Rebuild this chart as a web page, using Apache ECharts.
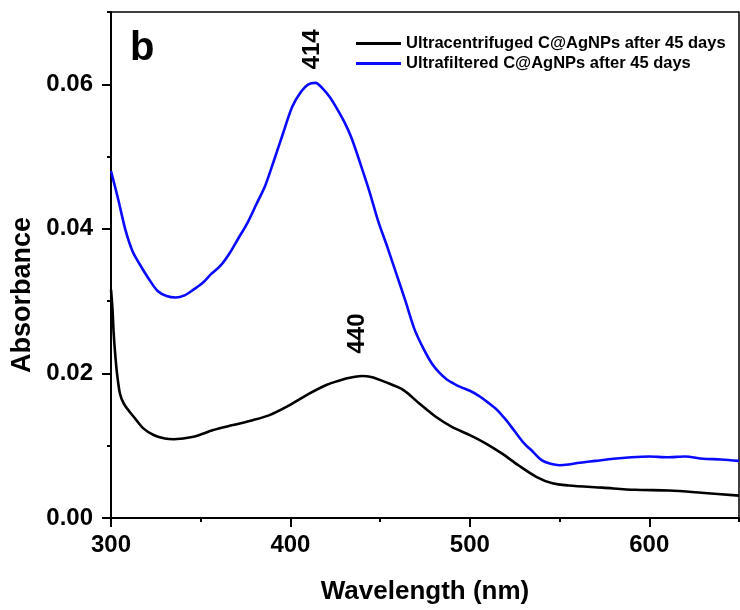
<!DOCTYPE html>
<html>
<head>
<meta charset="utf-8">
<title>UV-Vis absorbance of C@AgNPs after 45 days</title>
<script src="https://cdn.jsdelivr.net/npm/echarts@6/dist/echarts.min.js"></script>
<style>
  html, body { margin: 0; padding: 0; background: #fff; }
  #chart { width: 740px; height: 610px; }
</style>
</head>
<body>
<div id="chart"></div>
<script>
// Ultracentrifuged sample: wavelength (nm) and absorbance
const wlCentrifuged = [300, 300.8, 301.5, 302.5, 303.5, 305, 307, 310, 313, 318, 324, 330, 335, 346, 357, 368,
  379, 388, 398, 409, 420, 431, 436, 440, 445, 453, 463, 472, 481, 490, 500, 509, 518, 527, 537, 546,
  555, 574, 592, 611, 629, 650];
const absCentrifuged = [0.0316, 0.0290, 0.0255, 0.0222, 0.0197, 0.0172, 0.0159, 0.0148, 0.0139, 0.0124, 0.01145,
  0.0110, 0.0109, 0.01124, 0.01216, 0.01285, 0.01353, 0.0142, 0.0154, 0.0170, 0.0184, 0.0193, 0.01955,
  0.01965, 0.0195, 0.0188, 0.0177, 0.0158, 0.0140, 0.0126, 0.01147, 0.0103, 0.0089, 0.0073, 0.0057,
  0.0048, 0.0045, 0.0042, 0.0039, 0.0038, 0.0035, 0.0031];

// Ultrafiltered sample: wavelength (nm) and absorbance
const wlFiltered = [300, 304, 308, 312, 316, 321, 326, 331, 336, 341, 346, 351, 356, 361, 366, 371, 376, 381,
  386, 391, 396, 401, 406, 410, 414, 418, 422, 426, 430, 434, 439, 444, 449, 454, 459, 464, 469, 474,
  479, 483, 487, 491, 495, 500, 505, 510, 515, 520, 525, 530, 535, 540, 545, 550, 555, 560, 570, 580,
  590, 600, 610, 620, 630, 640, 650];
const absFiltered = [0.0480, 0.0441, 0.0399, 0.0369, 0.0351, 0.0331, 0.0314, 0.0307, 0.0305, 0.0308, 0.0316,
  0.0325, 0.0338, 0.0349, 0.0366, 0.0387, 0.0408, 0.0434, 0.0460, 0.0496, 0.0533, 0.0569, 0.0590,
  0.0600, 0.0602, 0.0594, 0.0582, 0.0566, 0.0548, 0.0526, 0.0490, 0.0452, 0.0410, 0.0375, 0.0338,
  0.0301, 0.0262, 0.0235, 0.0213, 0.0201, 0.0192, 0.0186, 0.0181, 0.0176, 0.0169, 0.0160, 0.0150,
  0.0136, 0.0120, 0.0104, 0.0092, 0.0080, 0.0075, 0.0073, 0.0074, 0.0076, 0.0079, 0.0082, 0.0084,
  0.0085, 0.0084, 0.0085, 0.0082, 0.0081, 0.0079];

// Axis ticks
const xTickLabels = [300, 400, 500, 600];
const yTickLabels = [0, 0.02, 0.04, 0.06];

const seriesNames = ['Ultracentrifuged C@AgNPs after 45 days', 'Ultrafiltered C@AgNPs after 45 days'];

const FONT = '"Liberation Sans", Arial, Helvetica, sans-serif';

function pairs(xs, ys) {
  return xs.map((x, i) => [x, ys[i]]);
}

// Plasmon band marker: wavelength of the absorbance maximum inside [lo, hi] nm,
// written vertically above the band
function peakMark(xs, ys, lo, hi, pos) {
  let best = -1;
  xs.forEach((x, i) => {
    if (x >= lo && x <= hi && (best < 0 || ys[i] > ys[best])) best = i;
  });
  return {
    symbol: 'circle',
    symbolSize: 1,
    itemStyle: { color: 'rgba(0,0,0,0)' },
    label: {
      show: true,
      position: pos,
      align: 'center',
      verticalAlign: 'middle',
      rotate: 90,
      formatter: String(xs[best]),
      color: '#000',
      fontFamily: FONT,
      fontWeight: 'bold',
      fontSize: 24
    },
    data: [{ coord: [xs[best], ys[best]] }]
  };
}

const chart = echarts.init(document.getElementById('chart'), null, { renderer: 'canvas' });

chart.setOption({
  animation: false,
  backgroundColor: '#fff',
  grid: {
    left: 111, right: 1, top: 12, bottom: 90,
    show: true, borderColor: '#000', borderWidth: 1.5, backgroundColor: 'transparent'
  },
  legend: {
    orient: 'vertical',
    left: 351,
    top: 30,
    icon: 'rect',
    itemWidth: 45,
    itemHeight: 3,
    itemGap: 3,
    textStyle: { color: '#000', fontFamily: FONT, fontWeight: 'bold', fontSize: 16.5 },
    data: seriesNames
  },
  xAxis: [
    {
      type: 'value', min: 300, max: 650, interval: 100,
      name: 'Wavelength (nm)', nameLocation: 'middle', nameGap: 61,
      nameTextStyle: { color: '#000', fontFamily: FONT, fontWeight: 'bold', fontSize: 26 },
      axisLine: { show: true, onZero: false, lineStyle: { color: '#000', width: 2 } },
      axisTick: { show: true, length: 9, lineStyle: { color: '#000', width: 2 }, customValues: xTickLabels },
      axisLabel: {
        margin: 15, color: '#000', fontFamily: FONT, fontWeight: 'bold', fontSize: 24,
        customValues: xTickLabels,
        formatter: v => (v % 100 === 0 ? String(v) : '')
      },
      splitLine: { show: false }
    },
    {
      // minor ticks every 50 nm
      type: 'value', min: 300, max: 650, interval: 50, position: 'bottom',
      axisLine: { show: false },
      axisTick: { show: true, length: 4, lineStyle: { color: '#000', width: 2 } },
      axisLabel: { show: false },
      splitLine: { show: false }
    }
  ],
  yAxis: [
    {
      type: 'value', min: 0, max: 0.07, interval: 0.02,
      axisLine: { show: true, onZero: false, lineStyle: { color: '#000', width: 2 } },
      axisTick: { show: true, length: 9, lineStyle: { color: '#000', width: 2 }, customValues: yTickLabels },
      axisLabel: {
        margin: 18, color: '#000', fontFamily: FONT, fontWeight: 'bold', fontSize: 24,
        customValues: yTickLabels,
        formatter: v => (Math.abs(Math.round(v * 100) - v * 100) < 1e-6 && Math.round(v * 100) % 2 === 0 ? v.toFixed(2) : '')
      },
      splitLine: { show: false }
    },
    {
      // minor ticks every 0.01
      type: 'value', min: 0, max: 0.07, interval: 0.01, position: 'left',
      axisLine: { show: false },
      axisTick: { show: true, length: 4, lineStyle: { color: '#000', width: 2 } },
      axisLabel: { show: false },
      splitLine: { show: false }
    }
  ],
  graphic: [
    {
      type: 'text', x: 23, y: 295, rotation: Math.PI / 2,
      style: {
        text: 'Absorbance', fill: '#000', font: 'bold 27px ' + FONT,
        align: 'center', verticalAlign: 'middle', textAlign: 'center', textVerticalAlign: 'middle'
      }
    },
    {
      type: 'text', x: 130, y: 49,
      style: {
        text: 'b', fill: '#000', font: 'bold 40px ' + FONT,
        align: 'left', verticalAlign: 'middle', textAlign: 'left', textVerticalAlign: 'middle'
      }
    }
  ],
  series: [
    {
      name: seriesNames[0],
      type: 'line',
      data: pairs(wlCentrifuged, absCentrifuged),
      xAxisIndex: 0, yAxisIndex: 0,
      symbol: 'none', showSymbol: false,
      smooth: 0.3,
      color: '#000',
      lineStyle: { color: '#000', width: 2.6 },
      markPoint: peakMark(wlCentrifuged, absCentrifuged, 380, 500, [-4, -42])
    },
    {
      name: seriesNames[1],
      type: 'line',
      data: pairs(wlFiltered, absFiltered),
      xAxisIndex: 0, yAxisIndex: 0,
      symbol: 'none', showSymbol: false,
      smooth: 0.3,
      color: '#0a0aff',
      lineStyle: { color: '#0a0aff', width: 2.6 },
      markPoint: peakMark(wlFiltered, absFiltered, 380, 500, [-2.5, -33])
    }
  ]
});
</script>
</body>
</html>
